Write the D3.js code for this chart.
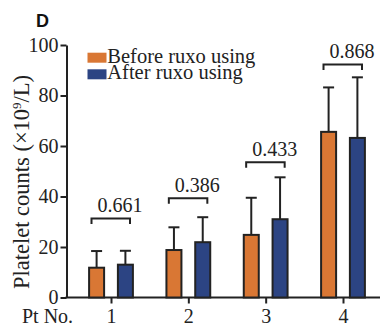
<!DOCTYPE html>
<html><head><meta charset="utf-8">
<script src="https://cdn.jsdelivr.net/npm/d3@7"></script>
<style>
html,body{margin:0;padding:0;background:#fff;}
svg{display:block;}
text{font-family:"Liberation Serif","Times New Roman",serif;fill:#222;}
</style></head>
<body>
<svg id="chart" width="381" height="329"></svg>
<script>
const categories = ["1","2","3","4"];
const seriesNames = ["Before ruxo using","After ruxo using"];
const beforeValues = [11.8, 18.8, 24.8, 65.6];
const afterValues = [13.0, 21.9, 31.0, 63.2];
const beforeSD = [6.6, 9.0, 14.7, 17.6];
const afterSD = [5.5, 9.9, 16.6, 24.0];
const pValues = ["0.661","0.386","0.433","0.868"];
const bracketLevels = [31.3, 39.3, 53.6, 92.3];
const yTicks = [0,20,40,60,80,100];
const colors = ["#D97734","#2C4483"];

const svg = d3.select("#chart");
const ink = "#222";
const y = d3.scaleLinear().domain([0,100]).range([297.5,45]);
const x = d3.scalePoint().domain(categories).range([111,343]);
const xs = d3.scaleBand().domain(seriesNames).range([-21.9,21.9]).paddingInner(0.479);
const axisX0 = 66.5, axisX1 = 380;

// panel letter
svg.append("text").attr("x",36).attr("y",27).text("D")
  .style("font-family","'Liberation Sans',Arial,sans-serif").style("font-weight","bold").style("font-size","18px").style("fill","#111");

// y axis
const gy = svg.append("g").attr("transform",`translate(${axisX0},0)`)
  .call(d3.axisLeft(y).tickValues(yTicks).tickSize(6).tickSizeOuter(0).tickPadding(2));
gy.select(".domain").attr("stroke",ink).attr("stroke-width",2);
gy.selectAll(".tick line").attr("stroke",ink).attr("stroke-width",2);
gy.selectAll(".tick text").style("font-family","'Liberation Serif',serif").style("font-size","20px").attr("fill",ink);

// x axis
const gx = svg.append("g").attr("transform",`translate(0,${y(0)})`)
  .call(d3.axisBottom(x).tickSize(6).tickSizeOuter(0).tickPadding(5));
gx.select(".domain").remove();
gx.append("line").attr("x1",axisX0-1).attr("x2",axisX1).attr("y1",0).attr("y2",0).attr("stroke",ink).attr("stroke-width",2);
gx.selectAll(".tick line").attr("stroke",ink).attr("stroke-width",2);
gx.selectAll(".tick text").style("font-family","'Liberation Serif',serif").style("font-size","20px").attr("fill",ink).attr("dy","0.71em");
svg.append("text").attr("x",22).attr("y",323).text("Pt No.").style("font-size","20px");

// y label
svg.append("text").attr("transform","translate(28.5,182) rotate(-90)").attr("text-anchor","middle")
  .style("font-size","22.5px")
  .html('Platelet counts (×10<tspan dy="-8" style="font-size:13px">9</tspan><tspan dy="8">/L)</tspan>');

// bars
const data = categories.map((c,i)=>({c, vals:[
  {s:seriesNames[0], v:beforeValues[i], sd:beforeSD[i], col:colors[0]},
  {s:seriesNames[1], v:afterValues[i], sd:afterSD[i], col:colors[1]}]}));
const groups = svg.append("g").selectAll("g").data(data).join("g")
  .attr("transform",d=>`translate(${x(d.c)},0)`);
const items = groups.selectAll("g").data(d=>d.vals).join("g");
items.append("line")
  .attr("x1",d=>xs(d.s)+xs.bandwidth()/2).attr("x2",d=>xs(d.s)+xs.bandwidth()/2)
  .attr("y1",d=>y(d.v)).attr("y2",d=>y(d.v+d.sd)).attr("stroke",ink).attr("stroke-width",2);
items.append("line")
  .attr("x1",d=>xs(d.s)+xs.bandwidth()/2-5.5).attr("x2",d=>xs(d.s)+xs.bandwidth()/2+5.5)
  .attr("y1",d=>y(d.v+d.sd)).attr("y2",d=>y(d.v+d.sd)).attr("stroke",ink).attr("stroke-width",2);
items.append("rect")
  .attr("x",d=>xs(d.s)).attr("width",xs.bandwidth())
  .attr("y",d=>y(d.v)).attr("height",d=>y(0)-y(d.v))
  .attr("fill",d=>d.col).attr("stroke",ink).attr("stroke-width",2);

// brackets
const br = svg.append("g").selectAll("g").data(categories).join("g")
  .attr("transform",(c)=>`translate(${x(c)},0)`);
br.append("path")
  .attr("d",(c,i)=>{const yy=y(bracketLevels[i]);return `M-19.5,${yy+5.5}V${yy}H19V${yy+5.5}`;})
  .attr("fill","none").attr("stroke",ink).attr("stroke-width",2);
br.append("text").attr("x",-13.5).attr("y",(c,i)=>y(bracketLevels[i])-6)
  .text((c,i)=>pValues[i]).style("font-size","20px");

// legend
const lg = svg.append("g").selectAll("g").data(seriesNames).join("g")
  .attr("transform",(d,i)=>`translate(87.5,${52.7+i*16.6})`);
lg.append("rect").attr("width",19).attr("height",10).attr("fill",(d,i)=>colors[i]);
lg.append("text").attr("x",19.8).attr("y",10).text(d=>d).style("font-size","20.5px");
</script>
</body></html>
